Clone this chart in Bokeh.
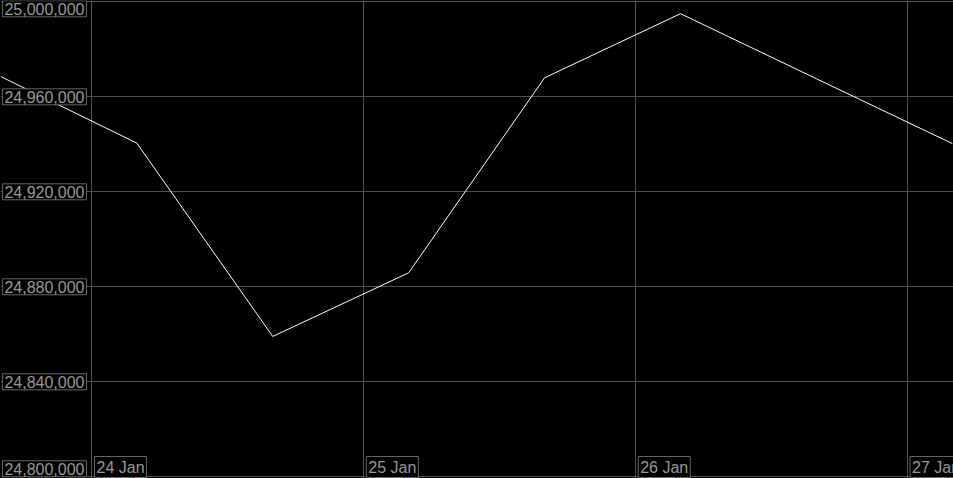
import pandas as pd
from bokeh.plotting import figure
from bokeh.models import Label, FixedTicker, Range1d, GlobalInlineStyleSheet
from bokeh.embed import file_html
from bokeh.resources import INLINE

# ---- data ----
times = ["2025-01-23 16:00", "2025-01-24 04:00", "2025-01-24 16:00", "2025-01-25 04:00",
         "2025-01-25 16:00", "2025-01-26 04:00", "2025-01-26 16:00", "2025-01-27 04:00"]
values = [24968500, 24940500, 24859100, 24885900, 24968000, 24995000, 24967600, 24940300]
y_ticks = [24800000, 24840000, 24880000, 24920000, 24960000, 25000000]
x_ticks = ["2025-01-24", "2025-01-25", "2025-01-26", "2025-01-27"]
x_tick_labels = ["24 Jan", "25 Jan", "26 Jan", "27 Jan"]


def ms(s):
    return pd.Timestamp(s).value / 1e6


xs = [ms(t) for t in times]
x_tick_ms = [ms(t) for t in x_ticks]

W, H = 953, 478
p = figure(width=W, height=H, output_backend="svg", toolbar_location=None,
           x_axis_type="datetime",
           x_range=Range1d(ms("2025-01-23 15:58"), ms("2025-01-27 04:06")),
           y_range=Range1d(24799280, 25000550),
           min_border=0, min_border_left=0, min_border_right=0,
           min_border_top=0, min_border_bottom=0)
p.stylesheets = [GlobalInlineStyleSheet(css="body{margin:0;background:#000;}")]
p.background_fill_color = "#000000"
p.border_fill_color = "#000000"
p.outline_line_color = None
p.xaxis.visible = False
p.yaxis.visible = False

grid_color = "#505050"
p.xgrid.ticker = FixedTicker(ticks=x_tick_ms)
p.ygrid.ticker = FixedTicker(ticks=y_ticks)
p.xgrid.grid_line_color = grid_color
p.ygrid.grid_line_color = grid_color
p.xgrid.grid_line_width = 1
p.ygrid.grid_line_width = 1

p.line(xs, values, line_color="#ffffff", line_width=1)

font = "Liberation Sans"
txt_color = "#999999"
box_color = "#666666"

for i, v in enumerate(y_ticks):
    off = 0
    if i == 0:
        off = 8
    elif i == len(y_ticks) - 1:
        off = -7
    p.add_layout(Label(x=86, x_units="screen", y=v, text=f"{v:,}",
                       text_align="right", text_baseline="middle", y_offset=off,
                       text_font=font, text_font_size="16px", text_color=txt_color,
                       background_fill_color="#000000", border_line_color=box_color,
                       border_line_width=1, padding=2))

for t, lab in zip(x_tick_ms, x_tick_labels):
    p.add_layout(Label(x=t, y=11.5, y_units="screen", text=lab, x_offset=3,
                       text_align="left", text_baseline="middle",
                       text_font=font, text_font_size="16px", text_color=txt_color,
                       background_fill_color="#000000", border_line_color=box_color,
                       border_line_width=1, padding=2))

open("out.html", "w").write(file_html(p, INLINE))
